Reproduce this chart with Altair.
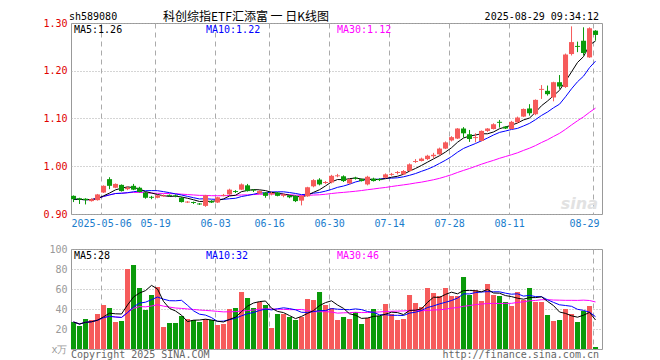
import altair as alt
import pandas as pd

# ---------------- data ----------------
dates = ["04-24", "04-25", "04-28", "04-29", "04-30",
         "05-06", "05-07", "05-08", "05-09", "05-12", "05-13", "05-14", "05-15", "05-16",
         "05-19", "05-20", "05-21", "05-22", "05-23", "05-26", "05-27", "05-28", "05-29", "05-30",
         "06-03", "06-04", "06-05", "06-06", "06-09", "06-10", "06-11", "06-12", "06-13",
         "06-16", "06-17", "06-18", "06-19", "06-20", "06-23", "06-24", "06-25", "06-26", "06-27",
         "06-30", "07-01", "07-02", "07-03", "07-04", "07-07", "07-08", "07-09", "07-10", "07-11",
         "07-14", "07-15", "07-16", "07-17", "07-18", "07-21", "07-22", "07-23", "07-24", "07-25",
         "07-28", "07-29", "07-30", "07-31", "08-01", "08-04", "08-05", "08-06", "08-07", "08-08",
         "08-11", "08-12", "08-13", "08-14", "08-15", "08-18", "08-19", "08-20", "08-21", "08-22",
         "08-25", "08-26", "08-27", "08-28", "08-29"]

open_ = [0.938, 0.933, 0.932, 0.927, 0.929, 0.945, 0.973, 0.955, 0.961, 0.952,
         0.959, 0.955, 0.945, 0.936, 0.934, 0.937, 0.940, 0.939, 0.934, 0.924,
         0.925, 0.922, 0.917, 0.927, 0.924, 0.938, 0.941, 0.948, 0.951, 0.960,
         0.951, 0.943, 0.945, 0.941, 0.945, 0.938, 0.939, 0.938, 0.928, 0.937,
         0.958, 0.972, 0.965, 0.966, 0.979, 0.979, 0.964, 0.976, 0.973, 0.962,
         0.974, 0.973, 0.976, 0.982, 0.986, 0.983, 0.990, 1.009, 1.011, 1.015,
         1.021, 1.025, 1.037, 1.054, 1.058, 1.079, 1.067, 1.059, 1.053, 1.074,
         1.078, 1.093, 1.083, 1.078, 1.092, 1.104, 1.121, 1.109, 1.160, 1.158,
         1.144, 1.176, 1.166, 1.235, 1.252, 1.263, 1.228, 1.284]
high = [0.939, 0.934, 0.933, 0.933, 0.942, 0.960, 0.977, 0.964, 0.962, 0.958,
        0.963, 0.957, 0.946, 0.938, 0.940, 0.941, 0.941, 0.941, 0.936, 0.927,
        0.926, 0.923, 0.940, 0.929, 0.936, 0.942, 0.953, 0.950, 0.964, 0.963,
        0.952, 0.950, 0.946, 0.946, 0.946, 0.943, 0.940, 0.939, 0.939, 0.957,
        0.973, 0.975, 0.969, 0.982, 0.984, 0.981, 0.974, 0.978, 0.974, 0.980,
        0.976, 0.975, 0.985, 0.986, 0.990, 0.992, 1.006, 1.015, 1.018, 1.024,
        1.028, 1.039, 1.052, 1.063, 1.080, 1.082, 1.076, 1.069, 1.075, 1.080,
        1.090, 1.097, 1.084, 1.095, 1.104, 1.121, 1.130, 1.140, 1.170, 1.169,
        1.177, 1.191, 1.236, 1.293, 1.261, 1.291, 1.291, 1.285]
low = [0.925, 0.921, 0.920, 0.926, 0.928, 0.944, 0.952, 0.954, 0.947, 0.950,
       0.950, 0.945, 0.932, 0.931, 0.933, 0.936, 0.936, 0.935, 0.924, 0.923,
       0.921, 0.919, 0.915, 0.923, 0.923, 0.937, 0.940, 0.944, 0.950, 0.947,
       0.946, 0.942, 0.934, 0.939, 0.937, 0.935, 0.933, 0.925, 0.918, 0.936,
       0.956, 0.960, 0.963, 0.964, 0.977, 0.967, 0.962, 0.972, 0.968, 0.960,
       0.968, 0.969, 0.975, 0.980, 0.983, 0.982, 0.989, 1.007, 1.010, 1.013,
       1.017, 1.024, 1.036, 1.052, 1.057, 1.060, 1.051, 1.050, 1.052, 1.072,
       1.077, 1.081, 1.078, 1.077, 1.090, 1.103, 1.106, 1.107, 1.141, 1.148,
       1.136, 1.162, 1.164, 1.232, 1.239, 1.232, 1.227, 1.263]
close = [0.931, 0.930, 0.929, 0.931, 0.941, 0.959, 0.959, 0.963, 0.948, 0.955,
         0.951, 0.946, 0.934, 0.934, 0.939, 0.939, 0.938, 0.937, 0.925, 0.926,
         0.923, 0.920, 0.939, 0.924, 0.935, 0.940, 0.951, 0.946, 0.962, 0.948,
         0.949, 0.948, 0.938, 0.944, 0.938, 0.941, 0.935, 0.927, 0.938, 0.956,
         0.971, 0.962, 0.967, 0.980, 0.981, 0.969, 0.973, 0.974, 0.969, 0.978,
         0.969, 0.971, 0.983, 0.984, 0.988, 0.990, 1.004, 1.011, 1.016, 1.022,
         1.024, 1.037, 1.050, 1.061, 1.079, 1.069, 1.057, 1.061, 1.074, 1.079,
         1.088, 1.091, 1.079, 1.093, 1.102, 1.120, 1.111, 1.139, 1.162, 1.151,
         1.176, 1.167, 1.234, 1.260, 1.250, 1.237, 1.289, 1.275]
volume = [27, 23, 30, 29, 35, 44, 41, 27, 28, 80,
          84, 61, 39, 54, 62, 22, 26, 26, 33, 30,
          29, 27, 30, 29, 24, 25, 40, 41, 57, 51,
          41, 47, 44, 21, 35, 35, 32, 29, 32, 50,
          49, 57, 44, 41, 29, 32, 30, 37, 25, 31,
          40, 33, 45, 35, 29, 30, 54, 46, 42, 61,
          56, 53, 61, 53, 53, 72, 54, 59, 48, 65,
          54, 53, 47, 43, 57, 49, 61, 47, 47, 34,
          28, 29, 40, 35, 27, 38, 43, 2]

label_idx = [5, 14, 24, 33, 43, 53, 63, 73, 87]
label_text = ["2025-05-06", "05-19", "06-03", "06-16", "06-30", "07-14", "07-28", "08-11", "08-29"]
price_ticks = [0.90, 1.00, 1.10, 1.20, 1.30]
vol_ticks = [0, 20, 40, 60, 80, 100]

# ---------------- styling ----------------
UP = "#f65b5b"
DOWN = "#0a9a0a"
MONO = "DejaVu Sans Mono"
CJK = "Noto Sans CJK SC"
GRID = "#aaaaaa"
W = 531
H_TOP = 191
H_VOL = 100

df = pd.DataFrame({"k": list(range(len(dates))), "date": dates, "open": open_, "high": high,
                   "low": low, "close": close, "vol": volume})
df["k0"] = df["k"] - 0.42
df["k1"] = df["k"] + 0.42
df["zero"] = 0
df["dir"] = ["up" if c >= o else "down" for o, c in zip(df["open"], df["close"])]

XS = alt.Scale(domain=[-0.42, 88.08], nice=False, zero=False)
YS = alt.Scale(domain=[0.90, 1.30], nice=False, zero=False)
VS = alt.Scale(domain=[0, 100], nice=False)
COLOR = alt.Color("dir:N", scale=alt.Scale(domain=["up", "down"], range=[UP, DOWN]), legend=None)

tick_vals = [i - 0.4 for i in label_idx]
expr = ""
for i, (v, t) in enumerate(zip(tick_vals, label_text)):
    if i < len(tick_vals) - 1:
        expr += f"datum.value < {v + 0.5} ? '{t}' : "
    else:
        expr += f"'{t}'"

top_x_axis = alt.Axis(values=tick_vals, labelExpr=expr, grid=True, gridDash=[5, 4], gridColor=GRID,
                      ticks=False, domain=False, labelColor="#1a7ccc", labelFont=MONO, labelFontSize=10,
                      labelPadding=4, title=None, labelOverlap=False, labelBound=False, labelFlush=False,
                      labelAlign={"condition": {"test": "datum.value > 80", "value": "right"}, "value": "center"},
                      labelOffset={"condition": {"test": "datum.value > 80", "value": 6}, "value": 0})
vol_x_axis = alt.Axis(values=tick_vals, labels=False, grid=True, gridDash=[5, 4], gridColor=GRID,
                      ticks=False, domain=False, title=None)
top_y_axis = alt.Axis(values=price_ticks, format=".2f", grid=True, gridDash=[1, 2], gridColor=GRID,
                      ticks=False, domain=False, labelColor="#e00000", labelFont=MONO, labelFontSize=10,
                      labelPadding=4, title=None)
vol_y_axis = alt.Axis(values=vol_ticks, labelExpr="datum.value == 0 ? 'x万' : datum.label", grid=True,
                      gridDash=[1, 2], gridColor=GRID, ticks=False, domain=False, labelColor="#999999",
                      labelFont=MONO, labelFontSize=10, labelPadding=4, title=None)


def label(text, x, y, color="black", size=10, align="left", font=MONO, **kw):
    return alt.Chart(pd.DataFrame({"t": [text]})).mark_text(
        align=align, baseline="middle", color=color, fontSize=size, font=font, **kw
    ).encode(x=alt.value(x), y=alt.value(y), text="t:N")


base = alt.Chart(df)
XK = alt.X("k:Q", scale=XS, axis=top_x_axis)
XB = alt.X("k0:Q", scale=XS, axis=top_x_axis)

wick = base.mark_rule(strokeWidth=1).encode(
    x=XK, y=alt.Y("low:Q", scale=YS, axis=top_y_axis), y2="high:Q", color=COLOR)
body = base.mark_bar().encode(
    x=XB, x2="k1:Q", y=alt.Y("open:Q", scale=YS, axis=top_y_axis), y2="close:Q", color=COLOR)


def ma_line(field, n, name, color, scale, axis, xaxis):
    return base.transform_window(
        **{name: f"mean({field})"}, frame=[-(n - 1), 0], sort=[alt.SortField("k")]
    ).mark_line(color=color, strokeWidth=1).encode(
        x=alt.X("k:Q", scale=XS, axis=xaxis), y=alt.Y(f"{name}:Q", scale=scale, axis=axis))


ma5 = ma_line("close", 5, "ma5", "black", YS, top_y_axis, top_x_axis)
ma10 = ma_line("close", 10, "ma10", "#0000ff", YS, top_y_axis, top_x_axis)
ma30 = ma_line("close", 30, "ma30", "#ff00ff", YS, top_y_axis, top_x_axis)

top = alt.layer(
    ma30, ma10, ma5, wick, body,
    label("sina", 527, 181, color="#e2e2e2", size=16, align="right", font="DejaVu Sans",
          fontStyle="italic", fontWeight="bold"),
    label("MA5:1.26", 3, 6.5, "black"),
    label("MA10:1.22", 135, 6.5, "#0000ff"),
    label("MA30:1.12", 266, 6.5, "#ff00ff"),
    label("sh589080", -2, -6, "black"),
    label("科创综指ETF汇添富 一 日K线图", 175, -6, "black", size=12, align="center", font=CJK),
    label("2025-08-29 09:34:12", 528, -6, "black", align="right"),
).properties(width=W, height=H_TOP)

vbar = base.mark_bar().encode(
    x=alt.X("k0:Q", scale=XS, axis=vol_x_axis), x2="k1:Q",
    y=alt.Y("vol:Q", scale=VS, axis=vol_y_axis), y2="zero:Q", color=COLOR)
vma5 = ma_line("vol", 5, "v5", "black", VS, vol_y_axis, vol_x_axis)
vma10 = ma_line("vol", 10, "v10", "#0000ff", VS, vol_y_axis, vol_x_axis)
vma30 = ma_line("vol", 30, "v30", "#ff00ff", VS, vol_y_axis, vol_x_axis)

bottom = alt.layer(
    vbar, vma30, vma10, vma5,
    label("MA5:28", 3, 6.5, "black"),
    label("MA10:32", 135, 6.5, "#0000ff"),
    label("MA30:46", 266, 6.5, "#ff00ff"),
    label("Copyright 2025 SINA.COM", 0, 106, "#666666"),
    label("http://finance.sina.com.cn", 528, 106, "#666666", align="right"),
).properties(width=W, height=H_VOL)

chart = alt.vconcat(top, bottom, spacing=14).properties(
    padding={"left": 34, "top": 2, "right": 5, "bottom": 0},
    background="white",
).configure_view(stroke="#999999", strokeWidth=1)

chart.save("out.html", embed_options={"renderer": "svg", "actions": False})
